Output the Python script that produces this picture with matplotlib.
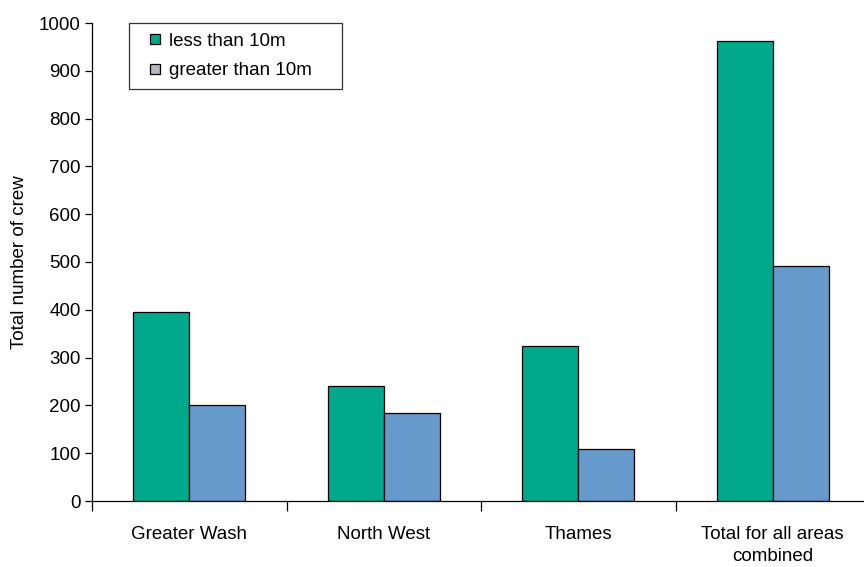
import numpy as np
import matplotlib
matplotlib.use("Agg")
import matplotlib.pyplot as plt
from matplotlib.lines import Line2D

plt.rcParams['font.family'] = ['Liberation Sans', 'DejaVu Sans']

# data
areas = ["Greater Wash", "North West", "Thames", "Total for all areas\ncombined"]
less_10m = [395, 240, 325, 962]
greater_10m = [201, 185, 109, 492]
y_ticks = [0, 100, 200, 300, 400, 500, 600, 700, 800, 900, 1000]

green = "#00A88C"
blue = "#6699CC"
grey = "#B6B6BE"
fs = 13.5

fig = plt.figure(figsize=(8.64, 5.67), dpi=100)
ax = fig.add_axes([92/864, 66/567, 778/864, 478/567])

x = np.arange(len(areas))
w = 0.287
ax.bar(x - w/2, less_10m, width=w, color=green, edgecolor="black", linewidth=0.9)
ax.bar(x + w/2, greater_10m, width=w, color=blue, edgecolor="black", linewidth=0.9)

ax.set_xlim(-0.5, len(areas) - 0.5)
ax.set_ylim(0, 1000)
ax.set_yticks(y_ticks)
ax.tick_params(axis="y", direction="out", length=5, width=0.9, labelsize=fs, pad=3)

# boundaries get the ticks, labels sit in between
ax.set_xticks(np.arange(len(areas)) - 0.5)
ax.set_xticklabels([])
ax.tick_params(axis="x", which="major", direction="out", length=7, width=0.9)
ax.set_xticks(x, minor=True)
ax.set_xticklabels(areas, minor=True, fontsize=fs, linespacing=1.35)
ax.tick_params(axis="x", which="minor", length=0, pad=18)

for s in ["top", "right"]:
    ax.spines[s].set_visible(False)
ax.spines["left"].set_linewidth(0.9)
ax.spines["bottom"].set_linewidth(0.9)

ax.set_ylabel("Total number of crew", fontsize=fs, labelpad=8)

handles = [
    Line2D([], [], marker="s", linestyle="none", markersize=7.5,
           markerfacecolor=green, markeredgecolor="black", markeredgewidth=0.9),
    Line2D([], [], marker="s", linestyle="none", markersize=7.5,
           markerfacecolor=grey, markeredgecolor="black", markeredgewidth=0.9),
]
leg = fig.legend(handles, ["less than 10m", "greater than 10m"],
                 loc="upper left", mode="expand",
                 bbox_to_anchor=(129/864, 1 - 23/567, 213/864, 0),
                 fontsize=fs, frameon=True, fancybox=False, handlelength=1.77,
                 handletextpad=-0.15, borderpad=0.5, labelspacing=0.68,
                 borderaxespad=0)
leg.get_frame().set_edgecolor("black")
leg.get_frame().set_linewidth(0.9)

fig.savefig("out.png", dpi=100)
